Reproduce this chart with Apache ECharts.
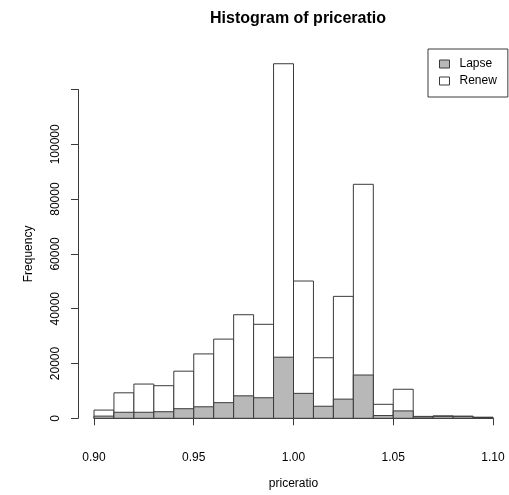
<!DOCTYPE html>
<html>
<head>
<meta charset="utf-8">
<script src="https://cdn.jsdelivr.net/npm/echarts@6/dist/echarts.min.js"></script>
<style>
  html, body { margin: 0; padding: 0; background: #fff; }
  #chart { width: 509px; height: 495px; }
</style>
</head>
<body>
<div id="chart"></div>
<script>
// Left edges of the 0.01-wide priceratio bins
const binStarts = [0.90, 0.91, 0.92, 0.93, 0.94, 0.95, 0.96, 0.97, 0.98, 0.99,
                   1.00, 1.01, 1.02, 1.03, 1.04, 1.05, 1.06, 1.07, 1.08, 1.09];
const binWidth = 0.01;
// White bars: every policy in the bin
const totalCounts = [3000, 9300, 12500, 11900, 17200, 23500, 28900, 37800, 34300, 129400,
                     50100, 22100, 44500, 85400, 5100, 10600, 700, 900, 800, 400];
// Grey bars drawn over them: policies that lapsed
const lapseCounts = [800, 2200, 2200, 2400, 3500, 4200, 5700, 8200, 7500, 22300,
                     9100, 4400, 7000, 15800, 1000, 2700, 500, 700, 600, 300];
const xTicks = { min: 0.90, max: 1.10, step: 0.05 };
const yTicks = { min: 0, max: 120000, step: 20000 };

const LINE = '#3a3a3a';
const GREY = '#b8b8b8';
const FONT = 'Liberation Sans, Arial, Helvetica, sans-serif';

function histRenderer(fill) {
  return function (params, api) {
    const x0 = api.value(0);
    const p0 = api.coord([x0, 0]);
    const p1 = api.coord([x0 + binWidth, api.value(1)]);
    return {
      type: 'rect',
      shape: { x: p0[0], y: p1[1], width: p1[0] - p0[0], height: p0[1] - p1[1] },
      style: { fill: fill, stroke: LINE, lineWidth: 1 }
    };
  };
}

const chart = echarts.init(document.getElementById('chart'), null, { renderer: 'canvas' });
chart.setOption({
  animation: false,
  backgroundColor: '#fff',
  textStyle: { fontFamily: FONT },
  title: {
    text: 'Histogram of priceratio',
    left: 205,
    top: 6,
    textStyle: { fontFamily: FONT, fontSize: 16, fontWeight: 'bold', color: '#000' }
  },
  legend: {
    orient: 'vertical',
    left: 428,
    top: 49,
    padding: [8, 11, 9, 11],
    itemGap: 3,
    itemWidth: 10,
    itemHeight: 8,
    borderColor: LINE,
    borderWidth: 1,
    borderRadius: 0,
    textStyle: { fontFamily: FONT, fontSize: 12, color: '#000', lineHeight: 14, padding: [0, 0, 0, 5] },
    data: [
      { name: 'Lapse', icon: 'rect', itemStyle: { color: GREY, borderColor: LINE, borderWidth: 1 } },
      { name: 'Renew', icon: 'rect', itemStyle: { color: '#fff', borderColor: LINE, borderWidth: 1 } }
    ]
  },
  grid: { left: 94, right: 16, top: 89.5, bottom: 76.7, containLabel: false },
  xAxis: {
    type: 'value',
    min: xTicks.min,
    max: xTicks.max,
    interval: xTicks.step,
    offset: 14,
    name: 'priceratio',
    nameLocation: 'middle',
    nameGap: 45,
    nameTextStyle: { fontFamily: FONT, fontSize: 12, color: '#000' },
    axisLine: { show: true, lineStyle: { color: LINE, width: 1 } },
    axisTick: { show: true, length: 7, lineStyle: { color: LINE } },
    axisLabel: {
      margin: 19,
      fontFamily: FONT, fontSize: 12, color: '#000',
      formatter: v => v.toFixed(2)
    },
    splitLine: { show: false }
  },
  yAxis: {
    type: 'value',
    min: yTicks.min,
    max: yTicks.max,
    interval: yTicks.step,
    offset: 16,
    name: 'Frequency',
    nameLocation: 'middle',
    nameGap: 43,
    nameRotate: 90,
    nameTextStyle: { fontFamily: FONT, fontSize: 12, color: '#000' },
    axisLine: { show: true, lineStyle: { color: LINE, width: 1 } },
    axisTick: { show: true, length: 7, lineStyle: { color: LINE } },
    axisLabel: {
      rotate: 90,
      margin: 16,
      fontFamily: FONT, fontSize: 12, color: '#000',
      formatter: v => (v === yTicks.max ? '' : String(v))
    },
    splitLine: { show: false }
  },
  series: [
    {
      name: 'Renew',
      type: 'custom',
      clip: false,
      itemStyle: { color: '#fff', borderColor: LINE },
      renderItem: histRenderer('#fff'),
      encode: { x: 0, y: 1 },
      data: binStarts.map((b, i) => [b, totalCounts[i]])
    },
    {
      name: 'Lapse',
      type: 'custom',
      clip: false,
      itemStyle: { color: GREY, borderColor: LINE },
      renderItem: histRenderer(GREY),
      encode: { x: 0, y: 1 },
      data: binStarts.map((b, i) => [b, lapseCounts[i]])
    }
  ]
});
</script>
</body>
</html>
